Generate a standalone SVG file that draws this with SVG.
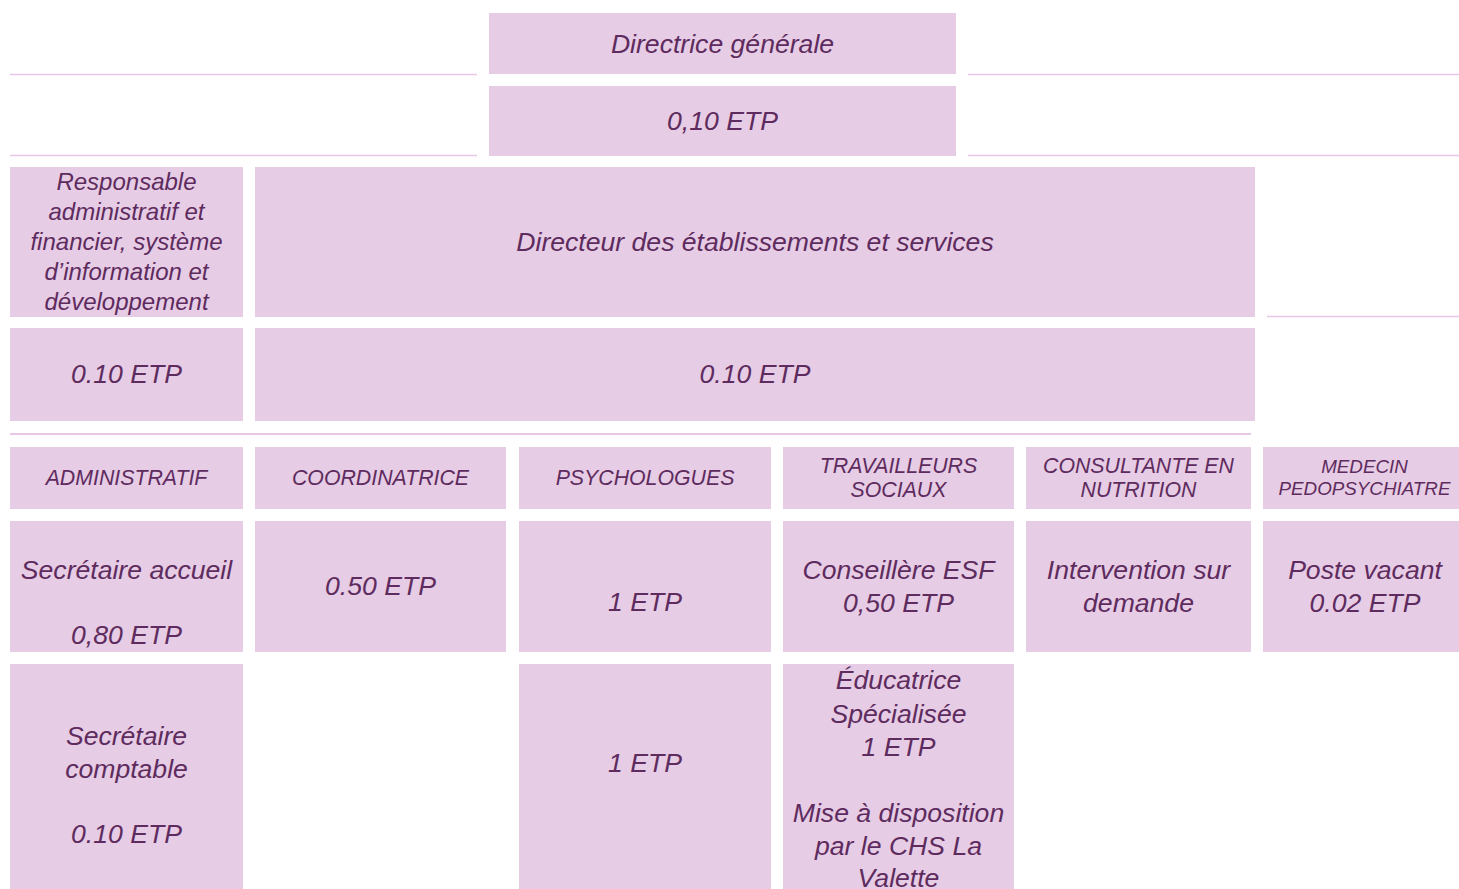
<svg xmlns="http://www.w3.org/2000/svg" width="1459" height="889" viewBox="0 0 1459 889">
<style>
.box{fill:#E6CCE4;}
.t{font-family:"Liberation Sans",Arial,sans-serif;font-style:italic;fill:#5E2B5E;text-anchor:middle;}
.big{font-size:26.6px;}
.mid{font-size:24px;}
.hd{font-size:21.3px;}
.sm{font-size:18.8px;}
.sep{stroke:#E8C8E6;stroke-width:1.5;fill:none;}
</style>
<rect width="1459" height="889" fill="#FFFFFF"/>
<g id="connectors">
<line class="sep" x1="10" y1="74.5" x2="477" y2="74.5"/>
<line class="sep" x1="968" y1="74.5" x2="1459" y2="74.5"/>
<line class="sep" x1="10" y1="155.5" x2="477" y2="155.5"/>
<line class="sep" x1="968" y1="155.5" x2="1459" y2="155.5"/>
<line class="sep" x1="1267" y1="316.5" x2="1459" y2="316.5"/>
<line class="sep" x1="10" y1="434" x2="1251" y2="434" style="stroke-width:2"/>
</g>
<g id="directrice">
<rect class="box" x="489" y="13" width="467" height="61"/>
<text class="t big" x="722.5" y="53">Directrice générale</text>
</g>
<g id="directrice-etp">
<rect class="box" x="489" y="86" width="467" height="70"/>
<text class="t big" x="722.5" y="130">0,10 ETP</text>
</g>
<g id="responsable">
<rect class="box" x="10" y="167" width="233" height="150"/>
<text class="t mid" x="126.5" y="190">Responsable</text>
<text class="t mid" x="126.5" y="220">administratif et</text>
<text class="t mid" x="126.5" y="250">financier, système</text>
<text class="t mid" x="126.5" y="280">d’information et</text>
<text class="t mid" x="126.5" y="310">développement</text>
</g>
<g id="directeur">
<rect class="box" x="255" y="167" width="1000" height="150"/>
<text class="t big" x="755" y="251">Directeur des établissements et services</text>
</g>
<g id="responsable-etp">
<rect class="box" x="10" y="328" width="233" height="93"/>
<text class="t big" x="126.5" y="383">0.10 ETP</text>
</g>
<g id="directeur-etp">
<rect class="box" x="255" y="328" width="1000" height="93"/>
<text class="t big" x="755" y="383">0.10 ETP</text>
</g>
<g id="h-administratif">
<rect class="box" x="10" y="447" width="233" height="62"/>
<text class="t hd" x="126.5" y="485">ADMINISTRATIF</text>
</g>
<g id="h-coordinatrice">
<rect class="box" x="255" y="447" width="251" height="62"/>
<text class="t hd" x="380.5" y="485">COORDINATRICE</text>
</g>
<g id="h-psychologues">
<rect class="box" x="519" y="447" width="252" height="62"/>
<text class="t hd" x="645" y="485">PSYCHOLOGUES</text>
</g>
<g id="h-travailleurs">
<rect class="box" x="783" y="447" width="231" height="62"/>
<text class="t hd" x="898.5" y="473">TRAVAILLEURS</text>
<text class="t hd" x="898.5" y="497">SOCIAUX</text>
</g>
<g id="h-consultante">
<rect class="box" x="1026" y="447" width="225" height="62"/>
<text class="t hd" x="1138.5" y="473">CONSULTANTE EN</text>
<text class="t hd" x="1138.5" y="497">NUTRITION</text>
</g>
<g id="h-medecin">
<rect class="box" x="1263" y="447" width="196" height="62"/>
<text class="t sm" x="1364.5" y="473">MEDECIN</text>
<text class="t sm" x="1364.5" y="495">PEDOPSYCHIATRE</text>
</g>
<g id="secretaire-accueil">
<rect class="box" x="10" y="521" width="233" height="131"/>
<text class="t big" x="126.5" y="579">Secrétaire accueil</text>
<text class="t big" x="126.5" y="644">0,80 ETP</text>
</g>
<g id="coordinatrice-etp">
<rect class="box" x="255" y="521" width="251" height="131"/>
<text class="t big" x="380.5" y="595">0.50 ETP</text>
</g>
<g id="psychologue-1">
<rect class="box" x="519" y="521" width="252" height="131"/>
<text class="t big" x="645" y="611">1 ETP</text>
</g>
<g id="conseillere">
<rect class="box" x="783" y="521" width="231" height="131"/>
<text class="t big" x="898.5" y="579">Conseillère ESF</text>
<text class="t big" x="898.5" y="612">0,50 ETP</text>
</g>
<g id="intervention">
<rect class="box" x="1026" y="521" width="225" height="131"/>
<text class="t big" x="1138.5" y="579">Intervention sur</text>
<text class="t big" x="1138.5" y="612">demande</text>
</g>
<g id="poste-vacant">
<rect class="box" x="1263" y="521" width="196" height="131"/>
<text class="t big" x="1365" y="579">Poste vacant</text>
<text class="t big" x="1365" y="612">0.02 ETP</text>
</g>
<g id="secretaire-comptable">
<rect class="box" x="10" y="664" width="233" height="225"/>
<text class="t big" x="126.5" y="745">Secrétaire</text>
<text class="t big" x="126.5" y="778">comptable</text>
<text class="t big" x="126.5" y="843">0.10 ETP</text>
</g>
<g id="psychologue-2">
<rect class="box" x="519" y="664" width="252" height="225"/>
<text class="t big" x="645" y="772">1 ETP</text>
</g>
<g id="educatrice">
<rect class="box" x="783" y="664" width="231" height="225"/>
<text class="t big" x="898.5" y="689">Éducatrice</text>
<text class="t big" x="898.5" y="723">Spécialisée</text>
<text class="t big" x="898.5" y="756">1 ETP</text>
<text class="t big" x="898.5" y="822">Mise à disposition</text>
<text class="t big" x="898.5" y="855">par le CHS La</text>
<text class="t big" x="898.5" y="887">Valette</text>
</g>
</svg>
